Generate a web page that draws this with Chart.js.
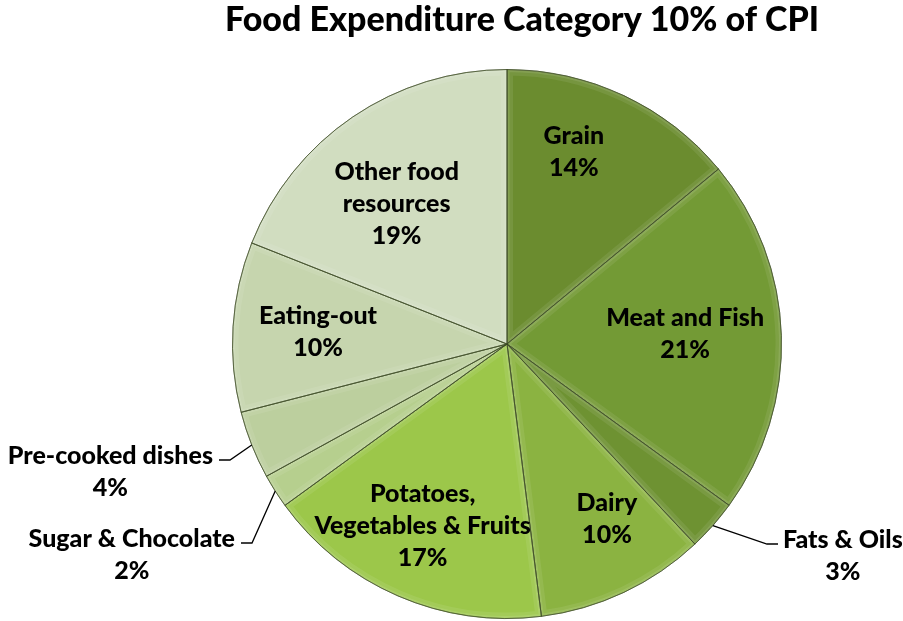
<!DOCTYPE html>
<html>
<head>
<meta charset="utf-8">
<script src="https://cdn.jsdelivr.net/npm/chart.js@4.4.1/dist/chart.umd.min.js"></script>
<style>
  html, body { margin: 0; padding: 0; background: #ffffff; }
  #wrap { width: 903px; height: 621px; position: relative; }
</style>
</head>
<body>
<div id="wrap"><canvas id="c" width="903" height="621"></canvas></div>
<script>
// Food basket shares within the CPI food category
const chartTitle = 'Food Expenditure Category 10% of CPI';
const categories = ['Grain', 'Meat and Fish', 'Fats & Oils', 'Dairy',
  'Potatoes, Vegetables & Fruits', 'Sugar & Chocolate', 'Pre-cooked dishes',
  'Eating-out', 'Other food resources'];
const shares = [14, 21, 3, 10, 17, 2, 4, 10, 19];
const labelLines = [['Grain'], ['Meat and Fish'], ['Fats & Oils'], ['Dairy'],
  ['Potatoes,', 'Vegetables & Fruits'], ['Sugar & Chocolate'], ['Pre-cooked dishes'],
  ['Eating-out'], ['Other food', 'resources']];
const sliceColors = ['#6b8c2f', '#739a35', '#6e9232', '#8bb341', '#9cc74a',
  '#b6cf8e', '#bccf9e', '#c6d5ae', '#d1ddc0'];

// Where each label sits: inside labels by radius fraction and angle nudge (deg),
// outside labels by the elbow of their leader line relative to the pie centre.
const labelPlacement = [
  { r: 0.74, dAng: -6 },
  { r: 0.65, dAng: -1.5 },
  { elbow: [260, 200] },
  { r: 0.735, dAng: -4.5 },
  { r: 0.73, dAng: 1.5 },
  { elbow: [-255, 199] },
  { elbow: [-277, 116] },
  { r: 0.69, dAng: 0 },
  { r: 0.65, dAng: -4 }
];

const FONT = '"Lato", "Open Sans", sans-serif';
const LABEL_SIZE = 25;
const LINE_H = 32;

function slicePath(ctx, a) {
  ctx.beginPath();
  ctx.moveTo(a.x, a.y);
  ctx.arc(a.x, a.y, a.outerRadius, a.startAngle, a.endAngle);
  ctx.closePath();
}

// Soft bevel on each slice edge
const bevelPlugin = {
  id: 'bevel',
  afterDatasetsDraw(chart) {
    const ctx = chart.ctx;
    chart.getDatasetMeta(0).data.forEach((a) => {
      ctx.save();
      slicePath(ctx, a);
      ctx.clip();
      slicePath(ctx, a);
      ctx.lineJoin = 'round';
      ctx.strokeStyle = 'rgba(255,255,255,0.08)';
      ctx.lineWidth = 12;
      ctx.stroke();
      ctx.strokeStyle = 'rgba(255,255,255,0.10)';
      ctx.lineWidth = 5;
      ctx.stroke();
      ctx.restore();
      ctx.save();
      slicePath(ctx, a);
      ctx.strokeStyle = 'rgba(55,70,30,0.6)';
      ctx.lineWidth = 1;
      ctx.stroke();
      ctx.restore();
    });
  }
};

// Title and slice labels
const labelPlugin = {
  id: 'sliceLabels',
  afterDraw(chart) {
    const ctx = chart.ctx;
    ctx.save();
    ctx.fillStyle = '#000000';
    ctx.font = '900 34px ' + FONT;
    ctx.textAlign = 'center';
    ctx.textBaseline = 'alphabetic';
    ctx.fillText(chartTitle, 522, 31);

    ctx.font = '900 ' + LABEL_SIZE + 'px ' + FONT;
    ctx.textBaseline = 'middle';
    const meta = chart.getDatasetMeta(0);
    meta.data.forEach((a, i) => {
      const lines = labelLines[i].concat([shares[i] + '%']);
      const p = labelPlacement[i];
      const mid = (a.startAngle + a.endAngle) / 2;
      let cx, cy;
      if (p.elbow) {
        const sx = a.x + a.outerRadius * Math.cos(mid);
        const sy = a.y + a.outerRadius * Math.sin(mid);
        const ex = a.x + p.elbow[0];
        const ey = a.y + p.elbow[1];
        const dir = p.elbow[0] >= 0 ? 1 : -1;
        const tx = ex + dir * 11;
        ctx.beginPath();
        ctx.moveTo(sx, sy);
        ctx.lineTo(ex, ey);
        ctx.lineTo(tx, ey);
        ctx.strokeStyle = '#000000';
        ctx.lineWidth = 1.3;
        ctx.stroke();
        const w = Math.max(...lines.map(t => ctx.measureText(t).width));
        cx = dir > 0 ? tx + 5 + w / 2 : tx - 6 - w / 2;
        cy = ey - 4 + (lines.length - 1) * LINE_H / 2;
      } else {
        const ang = mid + p.dAng * Math.PI / 180;
        cx = a.x + a.outerRadius * p.r * Math.cos(ang);
        cy = a.y + a.outerRadius * p.r * Math.sin(ang);
      }
      ctx.textAlign = 'center';
      const y0 = cy - (lines.length - 1) * LINE_H / 2;
      lines.forEach((t, k) => ctx.fillText(t, cx, y0 + k * LINE_H));
    });
    ctx.restore();
  }
};

new Chart(document.getElementById('c'), {
  type: 'pie',
  data: {
    labels: categories,
    datasets: [{
      data: shares,
      backgroundColor: sliceColors,
      borderColor: 'rgba(60,75,35,0.6)',
      borderWidth: 1
    }]
  },
  options: {
    responsive: false,
    animation: false,
    layout: { padding: { top: 69, bottom: 2, left: 232, right: 121 } },
    plugins: {
      legend: { display: false },
      tooltip: { enabled: false },
      title: { display: false }
    }
  },
  plugins: [bevelPlugin, labelPlugin]
});
</script>
</body>
</html>
